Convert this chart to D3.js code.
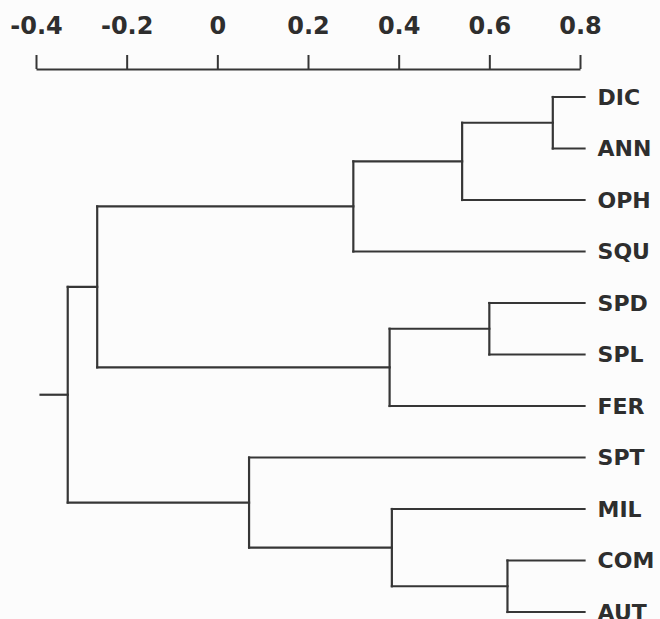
<!DOCTYPE html>
<html>
<head>
<meta charset="utf-8">
<script src="https://cdn.jsdelivr.net/npm/d3@7"></script>
<style>
  body { margin: 0; background: #fcfcfc; }
  svg { display: block; }
  text { font-family: "DejaVu Sans", "Liberation Sans", Arial, sans-serif; font-weight: bold; fill: #2e2e2e; }
</style>
</head>
<body>
<svg width="660" height="619"></svg>
<script>
// leaf order top to bottom
var leaves = ["DIC", "ANN", "OPH", "SQU", "SPD", "SPL", "FER", "SPT", "MIL", "COM", "AUT"];
// merges: [cluster id, child a, child b, join height]
var merges = [
  ["DA",    "DIC",  "ANN", 0.74],
  ["DAO",   "DA",   "OPH", 0.54],
  ["DAOS",  "DAO",  "SQU", 0.30],
  ["SS",    "SPD",  "SPL", 0.60],
  ["SSF",   "SS",   "FER", 0.38],
  ["UP",    "DAOS", "SSF", -0.265],
  ["CA",    "COM",  "AUT", 0.64],
  ["MCA",   "MIL",  "CA",  0.385],
  ["LOW",   "SPT",  "MCA", 0.07],
  ["ROOT",  "UP",   "LOW", -0.33]
];
var leafHeight = 0.81;
var rootStart = -0.39;
var tickValues = [-0.4, -0.2, 0, 0.2, 0.4, 0.6, 0.8];
var tickLabels = ["-0.4", "-0.2", "0", "0.2", "0.4", "0.6", "0.8"];

var svg = d3.select("svg");

var x = d3.scaleLinear().domain([-0.4, 0.8]).range([36, 580]);
var y = d3.scalePoint().domain(leaves).range([97, 612]);

// build nodes
var nodes = {};
leaves.forEach(function(l) { nodes[l] = {id: l, h: leafHeight, y: y(l), leaf: true}; });
merges.forEach(function(m) {
  var a = nodes[m[1]], b = nodes[m[2]];
  nodes[m[0]] = {id: m[0], h: m[3], a: a, b: b, y: (a.y + b.y) / 2};
});
var root = nodes["ROOT"];

var color = "#363636";

// axis on top
var axis = d3.axisTop(x)
    .tickValues(tickValues)
    .tickFormat(function(d, i) { return tickLabels[i]; })
    .tickSize(14)
    .tickSizeOuter(0)
    .tickPadding(21);

var gAxis = svg.append("g")
    .attr("transform", "translate(0,69)")
    .call(axis);
gAxis.select(".domain").attr("stroke", color).attr("stroke-width", 2);
gAxis.selectAll(".tick line").attr("stroke", color).attr("stroke-width", 2);
gAxis.selectAll(".tick text")
    .attr("fill", "#2e2e2e")
    .style("font-size", "24px")
    .style("font-family", "'DejaVu Sans', 'Liberation Sans', Arial, sans-serif")
    .style("font-weight", "bold");

// tree elbows
var segs = [];
merges.forEach(function(m) {
  var n = nodes[m[0]];
  segs.push([x(n.h), n.a.y, x(n.h), n.b.y]);
  segs.push([x(n.h), n.a.y, x(n.a.h), n.a.y]);
  segs.push([x(n.h), n.b.y, x(n.b.h), n.b.y]);
});
segs.push([x(rootStart), root.y, x(root.h), root.y]);

svg.append("g")
    .attr("stroke", color)
    .attr("stroke-width", 2.2)
    .attr("stroke-linecap", "square")
  .selectAll("line")
  .data(segs)
  .join("line")
    .attr("x1", d => d[0])
    .attr("y1", d => d[1])
    .attr("x2", d => d[2])
    .attr("y2", d => d[3]);

// leaf labels
svg.append("g")
  .selectAll("text")
  .data(leaves)
  .join("text")
    .attr("x", x(leafHeight) + 13)
    .attr("y", d => y(d))
    .attr("dy", "0.36em")
    .style("font-size", "22px")
    .text(d => d);
</script>
</body>
</html>
